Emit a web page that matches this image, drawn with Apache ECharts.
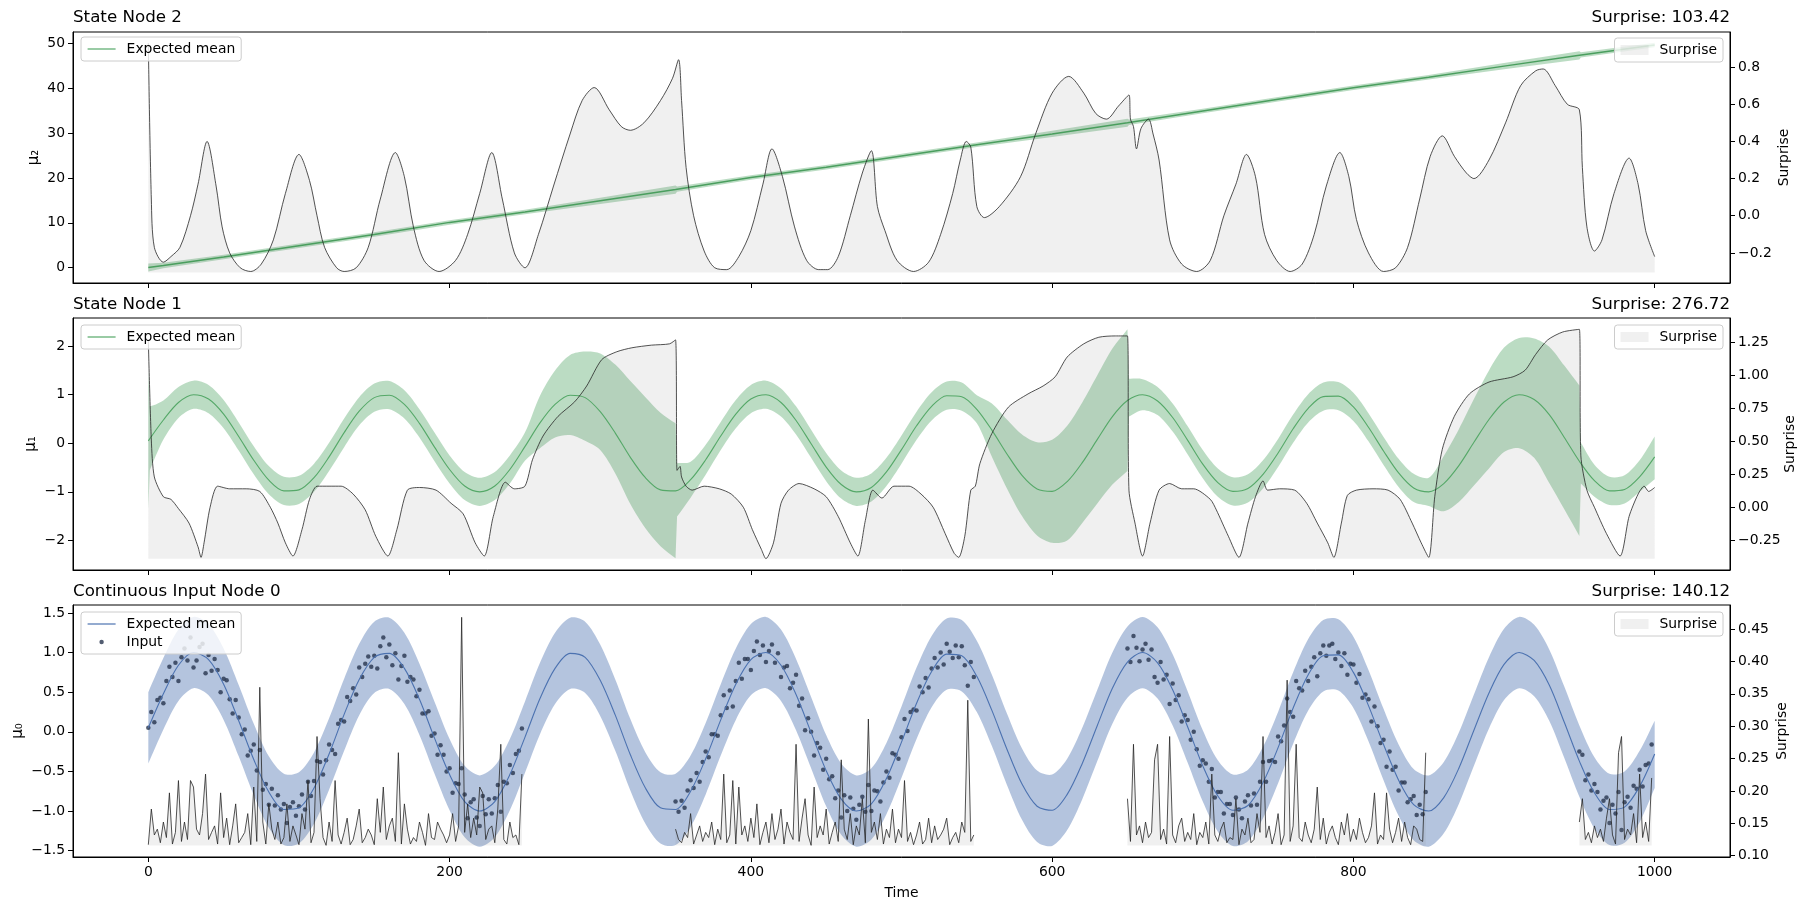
<!DOCTYPE html>
<html>
<head>
<meta charset="utf-8">
<title>HGF node trajectories</title>
<script src="https://cdn.jsdelivr.net/npm/echarts@6/dist/echarts.min.js"></script>
<style>
  html, body { margin: 0; padding: 0; background: #fff; }
  #main { width: 1811px; height: 911px; }
</style>
</head>
<body>
<div id="main"></div>
<script>
// ---- data ----
const xTicks = [0, 200, 400, 600, 800, 1000];

// State Node 2 (top panel)
const node2Time = [0,10,50,100,150,200,250,300,350,351,400,450,500,550,600,650,651,700,750,800,850,900,950,951,1000];
const node2Mean = [0.05,0.5,2.4,4.9,7.4,10.1,12.4,14.9,17.4,17.5,20.1,22.4,24.9,27.4,29.8,32.3,32.4,34.9,37.5,40.1,42.4,44.9,47.3,47.4,49.6];
const node2Upper = [0.95,1.1,2.9,5.4,7.9,10.6,12.9,15.6,18.3,18.1,20.6,22.9,25.4,27.9,30.5,33.2,33.0,35.4,38.0,40.6,42.9,45.6,48.2,48.0,50.1];
const node2Lower = [-0.85,-0.1,1.9,4.4,6.9,9.6,11.9,14.2,16.5,16.9,19.6,21.9,24.4,26.9,29.1,31.4,31.8,34.4,37.0,39.6,41.9,44.2,46.4,46.8,49.1];
const node2SurpriseTime = [0,2,4,10,15,21,28,33,39,45,49,54,61,68,75,83,91,100,107,112,117,125,130,138,146,154,164,170,176,183,193,204,212,220,228,235,243,250,259,269,280,288,296,306,314,320,329,340,348,352,354,357,362,369,376,384,392,400,408,414,421,429,437,445,451,458,466,474,480,484,489,497,508,518,526,534,539,543,546,550,555,565,579,589,600,611,621,629,636,644,651,652,654,656,659,664,667,671,678,686,696,705,714,722,729,735,741,749,758,766,774,782,791,797,802,810,820,828,836,844,851,859,867,875,880,890,901,911,921,926,934,942,950,952,955,960,965,973,983,989,994,1000];
const node2Surprise = [0.93,0.09,-0.17,-0.25,-0.22,-0.17,0.00,0.17,0.40,0.16,-0.06,-0.20,-0.28,-0.30,-0.26,-0.13,0.12,0.33,0.19,0.00,-0.17,-0.28,-0.30,-0.28,-0.17,0.09,0.34,0.21,-0.06,-0.24,-0.30,-0.24,-0.10,0.12,0.34,0.09,-0.20,-0.28,-0.10,0.16,0.44,0.62,0.69,0.57,0.48,0.46,0.50,0.62,0.74,0.84,0.62,0.26,0.00,-0.19,-0.28,-0.29,-0.22,-0.08,0.17,0.36,0.21,-0.06,-0.24,-0.29,-0.29,-0.22,0.00,0.23,0.35,0.05,-0.08,-0.24,-0.30,-0.25,-0.10,0.12,0.30,0.40,0.37,0.05,-0.01,0.05,0.21,0.44,0.66,0.75,0.66,0.55,0.52,0.59,0.65,0.52,0.48,0.36,0.47,0.52,0.44,0.30,-0.13,-0.26,-0.30,-0.24,0.00,0.17,0.33,0.21,-0.10,-0.24,-0.30,-0.26,-0.10,0.16,0.34,0.21,-0.02,-0.20,-0.30,-0.28,-0.17,0.09,0.32,0.43,0.32,0.23,0.20,0.30,0.50,0.70,0.78,0.79,0.70,0.60,0.57,0.26,-0.06,-0.19,-0.13,0.12,0.31,0.17,-0.08,-0.22];

// State Node 1 (middle panel) and Continuous Input Node 0 share the same expected mean curve
const meanTime = [0,10,20,30,40,50,60,70,80,90,100,110,120,130,140,150,160,170,180,190,200,210,220,230,240,250,260,270,280,290,300,310,320,330,340,350,360,370,380,390,400,410,420,430,440,450,460,470,480,490,500,510,520,530,540,550,560,570,580,590,600,610,620,630,640,650,660,670,680,690,700,710,720,730,740,750,760,770,780,790,800,810,820,830,840,850,860,870,880,890,900,910,920,930,940,950,960,970,980,990,1000];
const expectedMean = [0.05,0.48,0.84,1.00,0.91,0.60,0.14,-0.35,-0.76,-0.98,-0.96,-0.71,-0.28,0.22,0.66,0.94,0.99,0.80,0.41,-0.08,-0.54,-0.88,-1.00,-0.88,-0.54,-0.07,0.42,0.80,0.99,0.94,0.65,0.21,-0.29,-0.71,-0.96,-0.98,-0.75,-0.34,0.15,0.60,0.91,1.00,0.84,0.47,-0.01,-0.49,-0.85,-1.00,-0.91,-0.59,-0.13,0.36,0.76,0.98,0.96,0.70,0.27,-0.22,-0.66,-0.94,-0.99,-0.79,-0.40,0.08,0.55,0.88,1.00,0.87,0.53,0.06,-0.43,-0.81,-0.99,-0.93,-0.64,-0.20,0.30,0.72,0.96,0.97,0.75,0.33,-0.16,-0.61,-0.92,-1.00,-0.83,-0.46,0.02,0.49,0.85,1.00,0.90,0.59,0.12,-0.37,-0.77,-0.98,-0.95,-0.69,-0.28];

const node1BandTime = [0,1,5,10,20,30,40,50,60,70,80,90,100,110,120,130,140,150,160,170,180,190,200,210,220,230,240,250,260,270,280,290,300,310,320,330,340,350,351,360,370,380,390,400,410,420,430,440,450,460,470,480,490,500,510,520,530,540,550,560,570,580,590,600,610,620,630,640,650,651,660,670,680,690,700,710,720,730,740,750,760,770,780,790,800,810,820,830,840,850,860,870,880,890,900,910,920,930,940,950,951,960,970,980,990,1000];
const node1Upper = [1.50,0.76,0.80,0.88,1.16,1.29,1.20,0.89,0.43,-0.06,-0.47,-0.69,-0.67,-0.42,0.01,0.51,0.95,1.23,1.28,1.09,0.70,0.22,-0.25,-0.59,-0.71,-0.59,-0.25,0.22,0.98,1.50,1.82,1.89,1.85,1.62,1.28,0.95,0.63,0.41,-0.41,-0.38,-0.03,0.44,0.89,1.20,1.29,1.13,0.76,0.28,-0.20,-0.56,-0.71,-0.62,-0.30,0.16,0.65,1.05,1.27,1.25,0.99,0.82,0.49,0.18,0.02,0.07,0.36,0.84,1.40,1.95,2.35,1.33,1.32,1.16,0.82,0.35,-0.14,-0.52,-0.70,-0.64,-0.35,0.09,0.59,1.01,1.25,1.26,1.04,0.62,0.13,-0.32,-0.63,-0.71,-0.26,0.29,0.91,1.50,1.97,2.17,2.16,1.99,1.60,1.19,0.01,-0.44,-0.69,-0.66,-0.35,0.14];
const node1Lower = [-1.37,-0.55,-0.25,0.08,0.52,0.71,0.62,0.31,-0.15,-0.64,-1.05,-1.27,-1.25,-1.00,-0.57,-0.08,0.37,0.65,0.70,0.51,0.12,-0.37,-0.83,-1.17,-1.29,-1.17,-0.83,-0.36,-0.10,0.12,0.17,0.05,-0.14,-0.62,-1.25,-1.75,-2.12,-2.37,-1.51,-1.12,-0.65,-0.14,0.31,0.62,0.71,0.55,0.18,-0.30,-0.78,-1.14,-1.29,-1.20,-0.88,-0.42,0.07,0.47,0.69,0.67,0.41,-0.28,-0.93,-1.50,-1.90,-2.05,-2.00,-1.64,-1.24,-0.85,-0.57,0.55,0.68,0.58,0.24,-0.23,-0.72,-1.10,-1.28,-1.22,-0.93,-0.49,0.01,0.43,0.67,0.68,0.46,0.04,-0.45,-0.90,-1.21,-1.29,-1.40,-1.21,-0.87,-0.52,-0.18,-0.10,-0.30,-0.82,-1.36,-1.91,-0.83,-1.10,-1.27,-1.24,-1.00,-0.74];
const node1SurpriseTime = [0,2,4,10,15,20,27,33,35,37,41,46,54,65,74,81,86,91,96,102,107,112,120,128,136,144,151,159,165,172,180,191,201,209,217,223,229,237,243,250,255,262,272,283,291,301,311,321,334,346,350,351,353,354,357,361,369,379,387,395,401,407,410,415,420,425,432,442,450,458,466,471,476,481,487,495,505,513,521,529,535,538,542,546,549,552,560,571,584,594,602,610,621,631,642,650,651,655,660,665,671,678,686,694,705,709,717,724,730,735,740,743,751,761,769,776,783,787,792,796,802,813,823,831,839,845,850,854,859,867,877,890,906,914,921,929,939,950,951,955,960,968,977,983,989,993,996,1000];
const node1Surprise = [1.27,0.51,0.23,0.08,0.06,-0.01,-0.12,-0.30,-0.38,-0.27,0.00,0.16,0.14,0.14,0.12,0.00,-0.12,-0.27,-0.37,-0.17,0.06,0.16,0.16,0.16,0.10,-0.02,-0.22,-0.37,-0.17,0.13,0.15,0.13,0.03,-0.05,-0.27,-0.37,-0.07,0.19,0.14,0.16,0.36,0.54,0.69,0.80,0.92,1.12,1.18,1.21,1.23,1.24,1.27,0.28,0.31,0.23,0.16,0.13,0.16,0.14,0.10,0.00,-0.17,-0.32,-0.39,-0.27,0.03,0.13,0.18,0.14,0.08,-0.07,-0.27,-0.37,-0.10,0.13,0.07,0.16,0.16,0.10,0.00,-0.20,-0.35,-0.38,-0.22,0.13,0.16,0.33,0.56,0.76,0.86,0.92,0.99,1.14,1.24,1.29,1.30,1.30,0.13,-0.12,-0.37,-0.12,0.13,0.18,0.14,0.14,0.06,-0.02,-0.22,-0.38,-0.12,0.08,0.20,0.13,0.14,0.13,0.03,-0.12,-0.27,-0.38,-0.12,0.09,0.13,0.14,0.13,0.06,-0.12,-0.27,-0.38,0.08,0.44,0.69,0.86,0.95,0.99,1.04,1.16,1.27,1.33,1.35,0.39,0.13,0.00,-0.20,-0.37,-0.07,0.10,0.16,0.12,0.15];

// Continuous Input Node 0 (bottom panel)
const node0Upper = [0.50,0.93,1.29,1.45,1.36,1.05,0.59,0.10,-0.31,-0.53,-0.51,-0.26,0.17,0.67,1.11,1.39,1.44,1.25,0.86,0.38,-0.09,-0.43,-0.55,-0.43,-0.09,0.38,0.87,1.25,1.44,1.39,1.10,0.66,0.16,-0.26,-0.51,-0.53,-0.30,0.11,0.60,1.05,1.36,1.45,1.29,0.92,0.44,-0.04,-0.40,-0.55,-0.46,-0.14,0.32,0.81,1.21,1.43,1.41,1.15,0.72,0.23,-0.21,-0.49,-0.54,-0.34,0.05,0.53,1.00,1.33,1.45,1.32,0.98,0.51,0.02,-0.36,-0.54,-0.48,-0.19,0.25,0.75,1.17,1.41,1.42,1.20,0.78,0.29,-0.16,-0.47,-0.55,-0.38,-0.01,0.47,0.94,1.30,1.45,1.35,1.04,0.57,0.08,-0.32,-0.53,-0.50,-0.24,0.14];
const node0Lower = [-0.40,0.03,0.39,0.55,0.46,0.15,-0.31,-0.80,-1.21,-1.43,-1.41,-1.16,-0.73,-0.24,0.21,0.49,0.54,0.35,-0.04,-0.53,-0.99,-1.33,-1.45,-1.33,-0.99,-0.52,-0.03,0.35,0.54,0.49,0.20,-0.24,-0.74,-1.16,-1.41,-1.43,-1.20,-0.79,-0.30,0.15,0.46,0.55,0.39,0.02,-0.46,-0.94,-1.30,-1.45,-1.36,-1.04,-0.58,-0.09,0.31,0.53,0.51,0.25,-0.18,-0.67,-1.11,-1.39,-1.44,-1.24,-0.85,-0.37,0.10,0.43,0.55,0.42,0.08,-0.39,-0.88,-1.26,-1.44,-1.38,-1.09,-0.65,-0.15,0.27,0.51,0.52,0.30,-0.12,-0.61,-1.06,-1.37,-1.45,-1.28,-0.91,-0.43,0.04,0.40,0.55,0.45,0.14,-0.33,-0.82,-1.22,-1.43,-1.40,-1.14,-0.71];

// observed inputs come in four runs, one value every 2 time steps
const inputStarts = [0, 350, 650, 950];
const inputStep = 2;
const inputA = [0.05,0.25,0.12,0.40,0.43,0.36,0.64,0.82,0.69,0.87,0.64,0.94,1.05,0.90,1.19,0.81,0.90,1.07,1.11,0.74,0.97,0.77,0.92,0.78,0.50,0.67,0.65,0.41,0.23,0.40,0.18,-0.03,0.03,-0.30,-0.24,-0.16,-0.49,-0.23,-0.73,-0.66,-0.92,-0.72,-0.93,-0.80,-0.98,-0.91,-1.15,-0.95,-0.89,-1.06,-0.94,-0.79,-0.98,-0.63,-0.81,-0.62,-0.37,-0.38,-0.54,-0.36,-0.16,-0.23,-0.28,0.10,0.15,0.13,0.44,0.39,0.55,0.47,0.81,0.69,0.86,0.95,0.82,0.96,0.80,1.08,1.19,0.94,1.10,0.84,0.99,0.66,0.83,0.96,0.63,0.69,0.66,0.45,0.53,0.23,0.23,0.26,-0.05,-0.02,-0.29,-0.17,-0.29,-0.50,-0.46,-0.77,-0.65,-0.66,-0.46,-0.79,-1.09,-0.89,-0.85,-1.08,-1.19,-0.81,-1.04,-0.85,-1.03,-0.84,-0.67,-1.01,-0.63,-0.65,-0.42,-0.52,-0.28,-0.24,0.04];
const inputB = [-0.88,-1.01,-0.87,-0.96,-0.74,-0.61,-0.71,-0.52,-0.63,-0.38,-0.25,-0.32,-0.03,-0.03,-0.05,0.21,0.46,0.30,0.52,0.32,0.64,0.87,0.67,0.92,0.92,0.78,1.02,1.14,0.97,1.09,0.88,1.02,1.10,0.87,0.99,0.69,0.81,0.83,0.55,0.62,0.72,0.33,0.42,0.02,0.17,0.00,-0.30,-0.14,-0.20,-0.48,-0.34,-0.60,-0.56,-0.84,-0.74,-1.08,-0.80,-1.00,-0.83,-0.97,-1.11,-0.92,-0.82,-1.01,-0.67,-1.00,-0.74,-0.75,-0.88,-0.64,-0.50,-0.58,-0.27,-0.29,-0.34,-0.07,0.16,0.01,0.25,0.28,0.27,0.57,0.50,0.68,0.56,0.80,0.93,0.81,1.00,0.85,1.11,1.01,0.93,1.09,0.94,1.08,0.84,0.58,0.88,0.69];
const inputC = [1.05,0.88,1.21,1.06,0.89,1.04,1.11,0.91,1.04,0.69,0.62,0.88,0.66,0.72,0.35,0.61,0.40,0.46,0.13,0.21,0.15,-0.10,0.00,-0.22,-0.43,-0.36,-0.40,-0.63,-0.47,-0.83,-0.76,-0.76,-1.03,-0.91,-0.91,-1.05,-0.83,-0.98,-1.09,-0.88,-0.80,-0.93,-0.78,-0.92,-0.63,-0.38,-0.63,-0.37,-0.36,-0.38,-0.06,-0.12,0.08,0.42,0.25,0.19,0.64,0.55,0.52,0.77,0.64,0.82,0.94,0.70,0.99,1.09,0.96,1.09,1.11,0.92,1.00,0.83,0.99,0.72,0.86,0.85,0.62,0.73,0.43,0.47,0.41,0.13,0.32,0.07,-0.14,-0.10,-0.44,-0.25,-0.48,-0.44,-0.74,-0.64,-0.64,-0.89,-0.85,-0.81,-1.05,-0.92,-1.04,-0.76];
const inputD = [-0.25,-0.29,-0.61,-0.54,-0.74,-0.66,-0.76,-0.98,-0.87,-0.83,-1.15,-0.92,-1.03,-0.76,-1.24,-0.89,-0.82,-0.96,-0.68,-0.72,-0.48,-0.69,-0.42,-0.40,-0.16];
const surprise0A = [0.117,0.172,0.132,0.141,0.120,0.152,0.128,0.197,0.118,0.136,0.216,0.122,0.152,0.125,0.216,0.206,0.141,0.132,0.165,0.226,0.125,0.136,0.146,0.118,0.197,0.128,0.158,0.117,0.146,0.180,0.120,0.128,0.136,0.165,0.117,0.206,0.122,0.360,0.152,0.118,0.180,0.141,0.125,0.152,0.118,0.128,0.180,0.122,0.146,0.132,0.117,0.165,0.141,0.216,0.120,0.136,0.284,0.188,0.128,0.116,0.152,0.122,0.216,0.132,0.118,0.136,0.158,0.117,0.125,0.146,0.172,0.120,0.128,0.141,0.132,0.117,0.188,0.136,0.206,0.125,0.146,0.158,0.122,0.259,0.118,0.180,0.141,0.118,0.128,0.122,0.152,0.136,0.116,0.165,0.128,0.125,0.152,0.141,0.132,0.120,0.132,0.165,0.122,0.146,0.468,0.136,0.180,0.128,0.158,0.132,0.206,0.197,0.125,0.141,0.146,0.120,0.172,0.272,0.125,0.118,0.152,0.128,0.132,0.117,0.226];
const surprise0B = [0.141,0.125,0.120,0.136,0.128,0.165,0.118,0.132,0.146,0.122,0.136,0.128,0.152,0.117,0.141,0.125,0.226,0.120,0.132,0.216,0.118,0.206,0.132,0.146,0.122,0.158,0.128,0.180,0.117,0.136,0.152,0.120,0.165,0.125,0.141,0.172,0.118,0.152,0.136,0.125,0.272,0.122,0.158,0.188,0.132,0.116,0.206,0.128,0.146,0.132,0.172,0.118,0.136,0.152,0.122,0.248,0.141,0.125,0.165,0.117,0.146,0.132,0.188,0.120,0.311,0.136,0.152,0.125,0.165,0.118,0.141,0.128,0.172,0.120,0.141,0.128,0.216,0.122,0.136,0.117,0.132,0.152,0.118,0.125,0.158,0.120,0.146,0.125,0.132,0.141,0.158,0.117,0.128,0.136,0.120,0.152,0.136,0.340,0.122,0.132];
const surprise0C = [0.188,0.122,0.272,0.132,0.146,0.120,0.152,0.128,0.136,0.248,0.272,0.125,0.141,0.118,0.284,0.132,0.120,0.146,0.158,0.122,0.136,0.125,0.165,0.117,0.136,0.128,0.152,0.118,0.226,0.132,0.122,0.141,0.152,0.120,0.128,0.125,0.188,0.117,0.141,0.132,0.158,0.120,0.125,0.165,0.136,0.284,0.128,0.146,0.118,0.136,0.165,0.117,0.132,0.371,0.122,0.146,0.272,0.128,0.122,0.152,0.132,0.120,0.141,0.206,0.125,0.158,0.118,0.136,0.146,0.128,0.117,0.152,0.132,0.165,0.122,0.141,0.125,0.158,0.136,0.120,0.128,0.146,0.197,0.118,0.132,0.125,0.197,0.141,0.120,0.136,0.158,0.122,0.152,0.128,0.117,0.146,0.141,0.125,0.122,0.259];
const surprise0D = [0.152,0.188,0.125,0.136,0.120,0.146,0.128,0.141,0.122,0.158,0.188,0.132,0.118,0.259,0.284,0.125,0.141,0.132,0.165,0.120,0.226,0.128,0.152,0.122,0.220];

// ---- styling ----
const FONT = "'DejaVu Sans', sans-serif";
const GREEN = '#55a868';
const GREEN_BAND = 'rgba(85,168,104,0.4)';
const BLUE = '#4c72b0';
const BLUE_BAND = 'rgba(76,114,176,0.42)';
const DOT = '#27344d';
const S_LINE = '#262626';
const S_FILL = 'rgba(128,128,128,0.12)';
const TICK_FS = 13.9;

const pairs = (xs, ys) => xs.map((x, i) => [x, ys[i]]);
const runs = (segs) => {
  const out = [];
  segs.forEach((vals, k) => {
    if (k) out.push([inputStarts[k] - 1, '-']);
    vals.forEach((v, i) => out.push([inputStarts[k] + i * inputStep, v]));
  });
  return out;
};
const fmt = (d) => (v) => (Math.abs(v) < 1e-9 ? 0 : v).toFixed(d).replace('-', '\u2212');

const grids = [
  { left: 73, right: 81, top: 32, height: 251 },
  { left: 73, right: 81, top: 318, height: 252 },
  { left: 73, right: 81, top: 605, height: 252 }
].map(g => Object.assign(g, { show: true, borderColor: '#000', borderWidth: 1, backgroundColor: 'transparent' }));

const axisText = { fontSize: TICK_FS, color: '#000', fontFamily: FONT };

const xAxes = [0, 1, 2].map(g => ({
  type: 'value', gridIndex: g, min: -50, max: 1050,
  axisLine: { show: true, onZero: false, lineStyle: { color: '#000', width: 1 } },
  axisTick: { show: true, length: 5, customValues: xTicks, lineStyle: { color: '#000', width: 1 } },
  axisLabel: Object.assign({ show: g === 2, customValues: xTicks, margin: 8, formatter: fmt(0) }, axisText),
  splitLine: { show: false },
  name: g === 2 ? 'Time' : '', nameLocation: 'middle', nameGap: 29,
  nameTextStyle: axisText
}));

function yAxis(g, side, min, max, ticks, dec, name, gap) {
  return {
    type: 'value', gridIndex: g, position: side, min, max,
    axisLine: { show: true, onZero: false, lineStyle: { color: '#000', width: 1 } },
    axisTick: { show: true, length: 5, customValues: ticks, lineStyle: { color: '#000', width: 1 } },
    axisLabel: Object.assign({ customValues: ticks, margin: 8, formatter: fmt(dec) }, axisText),
    splitLine: { show: false },
    name, nameLocation: 'middle', nameGap: gap, nameMoveOverlap: false,
    nameTextStyle: Object.assign({}, axisText, side === 'left' ? { fontSize: 15 } : {})
  };
}

const yAxes = [
  yAxis(0, 'left', -3.4, 52.5, [0, 10, 20, 30, 40, 50], 0, '\u03bc\u2082', 31),
  yAxis(0, 'right', -0.362, 0.989, [-0.2, 0, 0.2, 0.4, 0.6, 0.8], 1, 'Surprise', 47),
  yAxis(1, 'left', -2.61, 2.58, [-2, -1, 0, 1, 2], 0, '\u03bc\u2081', 34),
  yAxis(1, 'right', -0.476, 1.436, [-0.25, 0, 0.25, 0.5, 0.75, 1, 1.25], 2, 'Surprise', 53),
  yAxis(2, 'left', -1.58, 1.6, [-1.5, -1, -0.5, 0, 0.5, 1, 1.5], 1, '\u03bc\u2080', 47),
  yAxis(2, 'right', 0.098, 0.487, [0.1, 0.15, 0.2, 0.25, 0.3, 0.35, 0.4, 0.45], 2, 'Surprise', 45)
];

// band edge in pixels; ends and jumps are doubled so the smoothing keeps them sharp
function edge(times, vals, api) {
  const out = [];
  times.forEach((t, i) => {
    const p = api.coord([t, vals[i]]);
    out.push(p);
    const corner = i === 0 || i === times.length - 1 ||
      times[i] - times[i - 1] < 5 || times[i + 1] - times[i] < 5;
    if (corner) out.push(p.slice());
  });
  return out;
}

// uncertainty band: one polygon (upper edge forward, lower edge back) placed with the axis scales
function band(g, times, lower, upper, color, smooth) {
  const rows = times.map((t, i) => [t, lower[i], upper[i]]);
  return {
    type: 'custom', xAxisIndex: g, yAxisIndex: 2 * g, silent: true, clip: true,
    data: rows, encode: { x: 0, y: [1, 2] },
    renderItem: (params, api) => {
      if (params.dataIndex !== 0) return null;
      const top = edge(times, upper, api);
      const bottom = edge(times, lower, api).reverse();
      return { type: 'polygon', shape: { points: top.concat(bottom), smooth }, style: { fill: color } };
    }
  };
}

function meanLine(g, times, vals, color, smooth, width) {
  return {
    type: 'line', name: 'Expected mean', xAxisIndex: g, yAxisIndex: 2 * g,
    data: pairs(times, vals), symbol: 'none', smooth, silent: true,
    lineStyle: { color, width }, itemStyle: { color }
  };
}

function surpriseLine(g, data, origin, smooth) {
  return {
    type: 'line', name: 'Surprise', xAxisIndex: g, yAxisIndex: 2 * g + 1,
    data, symbol: 'none', silent: true, connectNulls: false, smooth,
    lineStyle: { color: S_LINE, width: 0.8 }, itemStyle: { color: S_LINE },
    areaStyle: { color: S_FILL, opacity: 1, origin }
  };
}

const series = [
  band(0, node2Time, node2Lower, node2Upper, GREEN_BAND, 0),
  meanLine(0, node2Time, node2Mean, '#4a9e5e', false, 1.5),
  surpriseLine(0, pairs(node2SurpriseTime, node2Surprise), -0.305, 0.3),

  band(1, node1BandTime, node1Lower, node1Upper, GREEN_BAND, 0.3),
  meanLine(1, meanTime, expectedMean, GREEN, 0.3, 1.1),
  surpriseLine(1, pairs(node1SurpriseTime, node1Surprise), -0.39, 0.25),

  band(2, meanTime, node0Lower, node0Upper, BLUE_BAND, 0.3),
  meanLine(2, meanTime, expectedMean, BLUE, 0.3, 1.1),
  {
    type: 'scatter', name: 'Input', xAxisIndex: 2, yAxisIndex: 4,
    data: runs([inputA, inputB, inputC, inputD]).filter(p => p[1] !== '-'),
    symbolSize: 4.5, silent: true, itemStyle: { color: DOT }
  },
  surpriseLine(2, runs([surprise0A, surprise0B, surprise0C, surprise0D]), 0.1157, false)
];

const legendBase = {
  orient: 'vertical', selectedMode: false,
  backgroundColor: 'rgba(255,255,255,0.8)', borderColor: '#cccccc', borderWidth: 1, borderRadius: 3,
  padding: [5, 6, 5, 6], itemWidth: 28, itemHeight: 10, itemGap: 4,
  textStyle: { fontSize: TICK_FS, color: '#000', fontFamily: FONT, padding: [0, 0, 0, 6] }
};
// the line icon of a line series carries a marker; hide it so only the line remains
const meanItem = (c) => ({ name: 'Expected mean', lineStyle: { color: c, width: 1.2 }, itemStyle: { color: c, opacity: 0 } });
const surpriseItem = { name: 'Surprise', icon: 'rect', itemStyle: { color: S_FILL, borderWidth: 0, borderColor: 'transparent' } };
const inputItem = {
  name: 'Input',
  icon: 'path://M0,0L0,0M28,0L28,0M28,10L28,10M0,10L0,10M16.2,5A2.2,2.2,0,1,1,11.8,5A2.2,2.2,0,1,1,16.2,5Z',
  itemStyle: { color: DOT }
};
const legends = [
  Object.assign({}, legendBase, { left: 81, top: 37, data: [meanItem(GREEN)] }),
  Object.assign({}, legendBase, { right: 88, top: 38, data: [surpriseItem] }),
  Object.assign({}, legendBase, { left: 81, top: 325, data: [meanItem(GREEN)] }),
  Object.assign({}, legendBase, { right: 88, top: 325, data: [surpriseItem] }),
  Object.assign({}, legendBase, { left: 81, top: 612, data: [meanItem(BLUE), inputItem] }),
  Object.assign({}, legendBase, { right: 88, top: 612, data: [surpriseItem] })
];

const titleStyle = { fontSize: 16.7, fontWeight: 'normal', color: '#000', fontFamily: FONT };
const titles = [
  ['State Node 2', 'Surprise: 103.42', 9.5],
  ['State Node 1', 'Surprise: 276.72', 296.5],
  ['Continuous Input Node 0', 'Surprise: 140.12', 583.5]
].reduce((acc, [l, r, top]) => acc.concat([
  { text: l, left: 73, top, padding: 0, textStyle: titleStyle },
  { text: r, right: 81, top, padding: 0, textStyle: titleStyle }
]), []);

const chart = echarts.init(document.getElementById('main'), null, { renderer: 'canvas', width: 1811, height: 911 });
chart.setOption({
  animation: false,
  backgroundColor: '#fff',
  textStyle: { fontFamily: FONT },
  title: titles,
  legend: legends,
  grid: grids,
  xAxis: xAxes,
  yAxis: yAxes,
  series
});
</script>
</body>
</html>
